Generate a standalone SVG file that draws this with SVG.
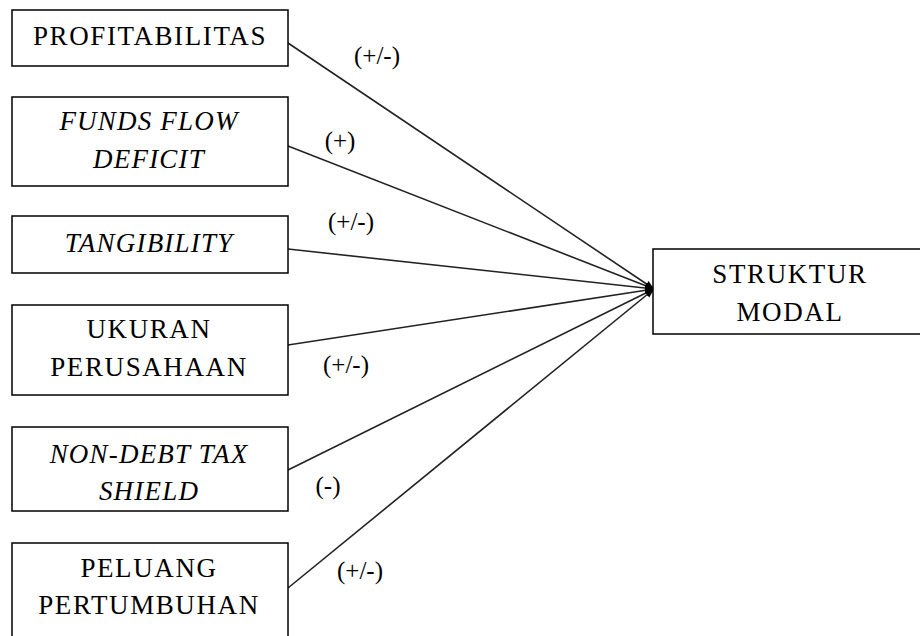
<svg xmlns="http://www.w3.org/2000/svg" width="920" height="636" viewBox="0 0 920 636">
<style>
.box{fill:#fff;stroke:#000;stroke-width:1.5}
.t{font-family:"Liberation Serif","Times New Roman",serif;font-size:27px;fill:#000;text-anchor:middle;letter-spacing:1.6px}
.i{font-style:italic;letter-spacing:1.2px}
.lbl{font-family:"Liberation Serif","Times New Roman",serif;font-size:25px;fill:#000;text-anchor:middle}
.c{stroke:#222;stroke-width:1.6;fill:none;marker-end:url(#ah)}
</style>
<defs>
<marker id="ah" viewBox="0 0 10 10" refX="10" refY="5" markerWidth="9" markerHeight="9" markerUnits="userSpaceOnUse" orient="auto">
<path d="M0,1 L10,5 L0,9 z" fill="#000"/>
</marker>
</defs>
<g id="connectors">
<line class="c" x1="288" y1="43" x2="654" y2="289"/>
<line class="c" x1="288" y1="146" x2="654" y2="289"/>
<line class="c" x1="288" y1="249" x2="654" y2="289"/>
<line class="c" x1="288" y1="345" x2="654" y2="289"/>
<line class="c" x1="288" y1="470" x2="654" y2="289"/>
<line class="c" x1="288" y1="588" x2="654" y2="289"/>
<text class="lbl" x="377" y="64">(+/-)</text>
<text class="lbl" x="340" y="149">(+)</text>
<text class="lbl" x="351" y="230">(+/-)</text>
<text class="lbl" x="346" y="373">(+/-)</text>
<text class="lbl" x="328" y="494">(-)</text>
<text class="lbl" x="360" y="579">(+/-)</text>
</g>
<g id="profitabilitas">
<rect class="box" x="12" y="10" width="276" height="56"/>
<text class="t" x="150" y="45">PROFITABILITAS</text>
</g>
<g id="funds-flow-deficit">
<rect class="box" x="12" y="97" width="276" height="89"/>
<text class="t i" x="149" y="130">FUNDS FLOW</text>
<text class="t i" x="149" y="168">DEFICIT</text>
</g>
<g id="tangibility">
<rect class="box" x="12" y="216" width="276" height="57"/>
<text class="t i" x="149" y="252">TANGIBILITY</text>
</g>
<g id="ukuran-perusahaan">
<rect class="box" x="12" y="305" width="276" height="90"/>
<text class="t" x="149" y="338">UKURAN</text>
<text class="t" x="149" y="376">PERUSAHAAN</text>
</g>
<g id="non-debt-tax-shield">
<rect class="box" x="12" y="427" width="276" height="84"/>
<text class="t i" x="149" y="463">NON-DEBT TAX</text>
<text class="t i" x="149" y="500">SHIELD</text>
</g>
<g id="peluang-pertumbuhan">
<rect class="box" x="12" y="543" width="276" height="100"/>
<text class="t" x="149" y="577">PELUANG</text>
<text class="t" x="149" y="614">PERTUMBUHAN</text>
</g>
<g id="struktur-modal">
<rect class="box" x="653" y="249" width="275" height="85"/>
<text class="t" x="790" y="283">STRUKTUR</text>
<text class="t" x="790" y="321">MODAL</text>
</g>
</svg>
